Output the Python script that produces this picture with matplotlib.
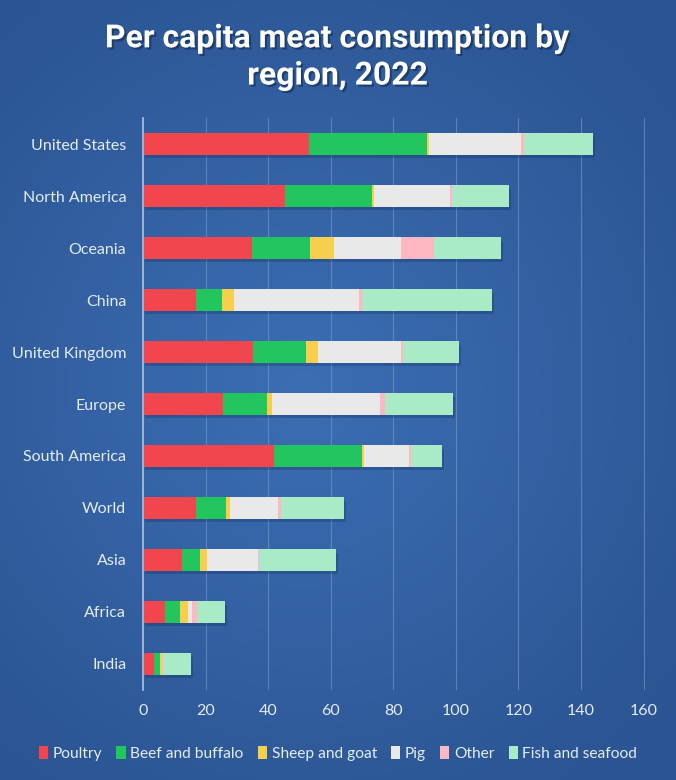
import numpy as np
import matplotlib
matplotlib.use("Agg")
import matplotlib.pyplot as plt
import matplotlib.patheffects as pe
from matplotlib.patches import Patch

regions = ["United States", "North America", "Oceania", "China", "United Kingdom",
           "Europe", "South America", "World", "Asia", "Africa", "India"]
poultry = [53.0, 45.3, 34.8, 16.9, 35.1, 25.7, 42.0, 16.9, 12.4, 7.0, 3.4]
beef    = [37.8, 28.0, 18.5, 8.3, 17.1, 13.8, 28.1, 9.5, 5.8, 4.8, 1.9]
sheep   = [0.6, 0.4, 7.9, 3.8, 3.8, 1.7, 0.4, 1.4, 2.2, 2.6, 0.8]
pig     = [29.5, 24.5, 21.4, 40.1, 26.4, 34.5, 14.6, 15.4, 16.5, 1.4, 0.1]
other   = [0.8, 0.7, 10.5, 0.8, 0.8, 1.7, 0.6, 0.9, 0.3, 1.5, 0.1]
fish    = [22.2, 18.1, 21.3, 41.7, 17.8, 21.7, 9.8, 20.0, 24.5, 8.9, 9.1]

series = ["Poultry", "Beef and buffalo", "Sheep and goat", "Pig", "Other", "Fish and seafood"]
values = [poultry, beef, sheep, pig, other, fish]
colors = ["#f2464e", "#22c55e", "#f6d04d", "#e9e9ea", "#ffb8c2", "#a9ebc7"]
xticks = [0, 20, 40, 60, 80, 100, 120, 140, 160]

plt.rcParams['font.family'] = ['Lato', 'DejaVu Sans']

fig = plt.figure(figsize=(6.76, 7.80), dpi=100)

# background gradient
bg = fig.add_axes([0, 0, 1, 1], zorder=-10)
yy, xx = np.mgrid[0:1:300j, 0:1:300j]
r = np.sqrt(((xx - 0.45) / 0.9) ** 2 + ((yy - 0.5) / 0.8) ** 2)
c_in = np.array([0x3c, 0x6e, 0xb4]) / 255
c_out = np.array([0x2b, 0x55, 0x93]) / 255
t = np.clip(r / 0.75, 0, 1)[..., None]
img = c_in * (1 - t) + c_out * t
bg.imshow(img, aspect='auto', extent=[0, 1, 0, 1], origin='lower')
bg.axis('off')

ax = fig.add_axes([0.2115, 0.1154, 0.7636, 0.7333])
ax.set_facecolor('none')
y = np.arange(len(regions))
left = np.zeros(len(regions))
for name, vals, col in zip(series, values, colors):
    bars = ax.barh(y, vals, left=left, height=0.41, color=col, label=name, zorder=3)
    for b in bars:
        b.set_path_effects([pe.SimplePatchShadow(offset=(1.5, -2.5), shadow_rgbFace='#12305c', alpha=0.3),
                            pe.Normal()])
    left += np.array(vals)

ax.set_ylim(len(regions) - 0.5, -0.5)
ax.set_xlim(0, 165)
ax.set_xticks(xticks)
ax.set_yticks(y)
ax.set_yticklabels(regions)
ax.tick_params(axis='both', length=0, colors='#e4ebf4', labelsize=11.5)
ax.tick_params(axis='y', pad=12)
ax.tick_params(axis='x', pad=10)
ax.grid(axis='x', color='#7a9dcc', linewidth=0.8, alpha=0.6, zorder=0)
for s in ['top', 'right', 'bottom']:
    ax.spines[s].set_visible(False)
ax.spines['left'].set_color('#a9c0e0')
ax.spines['left'].set_linewidth(1.2)
ax.spines['left'].set_zorder(4)

fig.text(0.5, 0.927, "Per capita meat consumption by\nregion, 2022", ha='center', va='center',
         fontsize=23, fontweight='bold', color='white', linespacing=1.3,
         family=['Roboto', 'DejaVu Sans'],
         path_effects=[pe.withSimplePatchShadow(offset=(1.5, -1.5), shadow_rgbFace='#112a50', alpha=0.6)])

handles = [Patch(facecolor=c, label=n) for n, c in zip(series, colors)]
leg = fig.legend(handles=handles, loc='center', bbox_to_anchor=(0.5, 0.034), ncol=6, frameon=False,
                 fontsize=11.2, handlelength=0.6, handleheight=0.9, handletextpad=0.3, columnspacing=0.9,
                 labelcolor='#e4ebf4')

fig.savefig("out.png", dpi=100)
